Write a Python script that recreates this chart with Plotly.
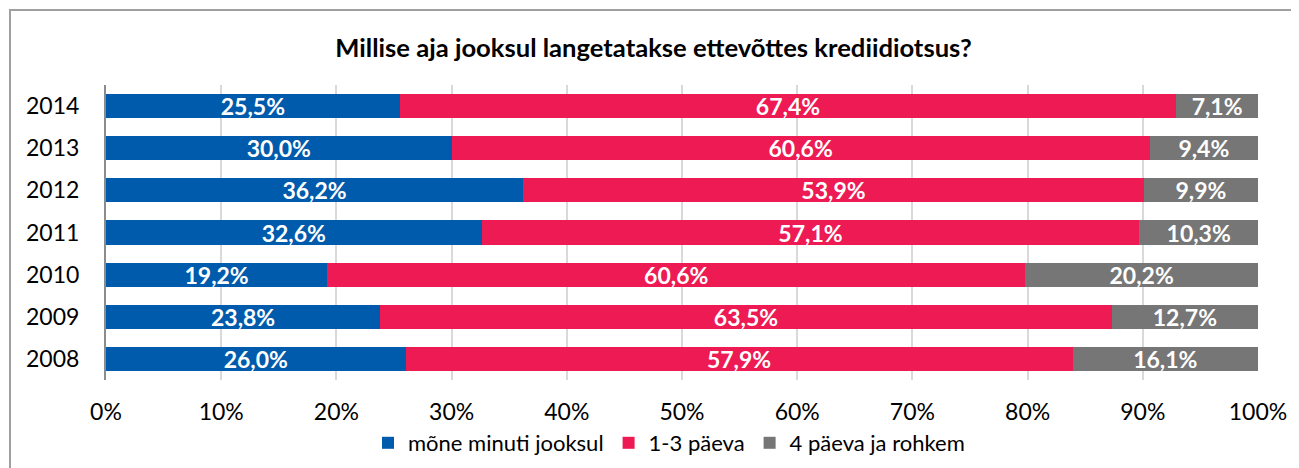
import plotly.graph_objects as go

years = ["2008", "2009", "2010", "2011", "2012", "2013", "2014"]
minutes = [26.0, 23.8, 19.2, 32.6, 36.2, 30.0, 25.5]
days_1_3 = [57.9, 63.5, 60.6, 57.1, 53.9, 60.6, 67.4]
days_4plus = [16.1, 12.7, 20.2, 10.3, 9.9, 9.4, 7.1]
series_names = ["mõne minuti jooksul", "1-3 päeva", "4 päeva ja rohkem"]
colors = ["#005BAC", "#ED1A53", "#767676"]
title = "Millise aja jooksul langetatakse ettevõttes krediidiotsus?"
xticks = [0, 10, 20, 30, 40, 50, 60, 70, 80, 90, 100]

FONT = "Lato"

def fmt(v):
    return f"{v:.1f}%".replace(".", ",")

fig = go.Figure()
for name, vals, col in zip(series_names, [minutes, days_1_3, days_4plus], colors):
    fig.add_trace(go.Bar(
        y=years, x=vals, name=name, orientation="h",
        marker=dict(color=col, line=dict(width=0)),
        text=[fmt(v) for v in vals],
        textposition="inside", insidetextanchor="middle", textangle=0,
        insidetextfont=dict(family=FONT, size=23, color="white", weight="bold"),
        width=0.57,
    ))

# page has an 8px body margin, so figure is offset by 8px
OFF = 8
W, H = 1299 - OFF, 468 - OFF
L, R, T, B = 106 - OFF, 41, 85 - OFF, 88
pw, ph = W - L - R, H - T - B

fig.update_layout(
    width=W, height=H,
    barmode="stack",
    margin=dict(l=L, r=R, t=T, b=B, autoexpand=False),
    plot_bgcolor="white", paper_bgcolor="white",
    font=dict(family=FONT, size=23, color="black"),
    title=dict(text="<b>" + title + "</b>", x=0.5, xanchor="center",
               y=1 - (48 - OFF) / H, yanchor="middle",
               font=dict(family=FONT, size=25.6, color="black")),
    xaxis=dict(range=[0, 100], tickvals=xticks,
               ticktext=[f"{t}%" for t in xticks],
               showgrid=True, gridcolor="#D9D9D9", gridwidth=2,
               zeroline=False, showline=False, ticks="",
               ticklabelstandoff=16,
               tickfont=dict(family=FONT, size=23, color="black")),
    yaxis=dict(type="category", categoryorder="array", categoryarray=years,
               range=[-0.5, 6.5], showline=True, linecolor="#8C8C8C", linewidth=2,
               ticks="", ticklabelstandoff=20,
               tickfont=dict(family=FONT, size=23, color="black")),
    legend=dict(orientation="h", x=((669 - OFF) - L) / pw, xanchor="center",
                traceorder="normal",
                y=-((443 - OFF) - (T + ph)) / ph, yanchor="middle",
                font=dict(family=FONT, size=22, color="black"),
                itemwidth=30, tracegroupgap=0),
    uniformtext=dict(minsize=23, mode="show"),
    showlegend=True,
)

fig.add_shape(type="rect", xref="paper", yref="paper",
              x0=(10 - 106) / pw, x1=(W + 20 - L) / pw,
              y0=-(H + 20 - (T + ph)) / ph, y1=(T + ph - (10 - OFF)) / ph,
              line=dict(color="#A0A0A0", width=2), fillcolor="rgba(0,0,0,0)",
              layer="above")

fig.write_html("out.html")
